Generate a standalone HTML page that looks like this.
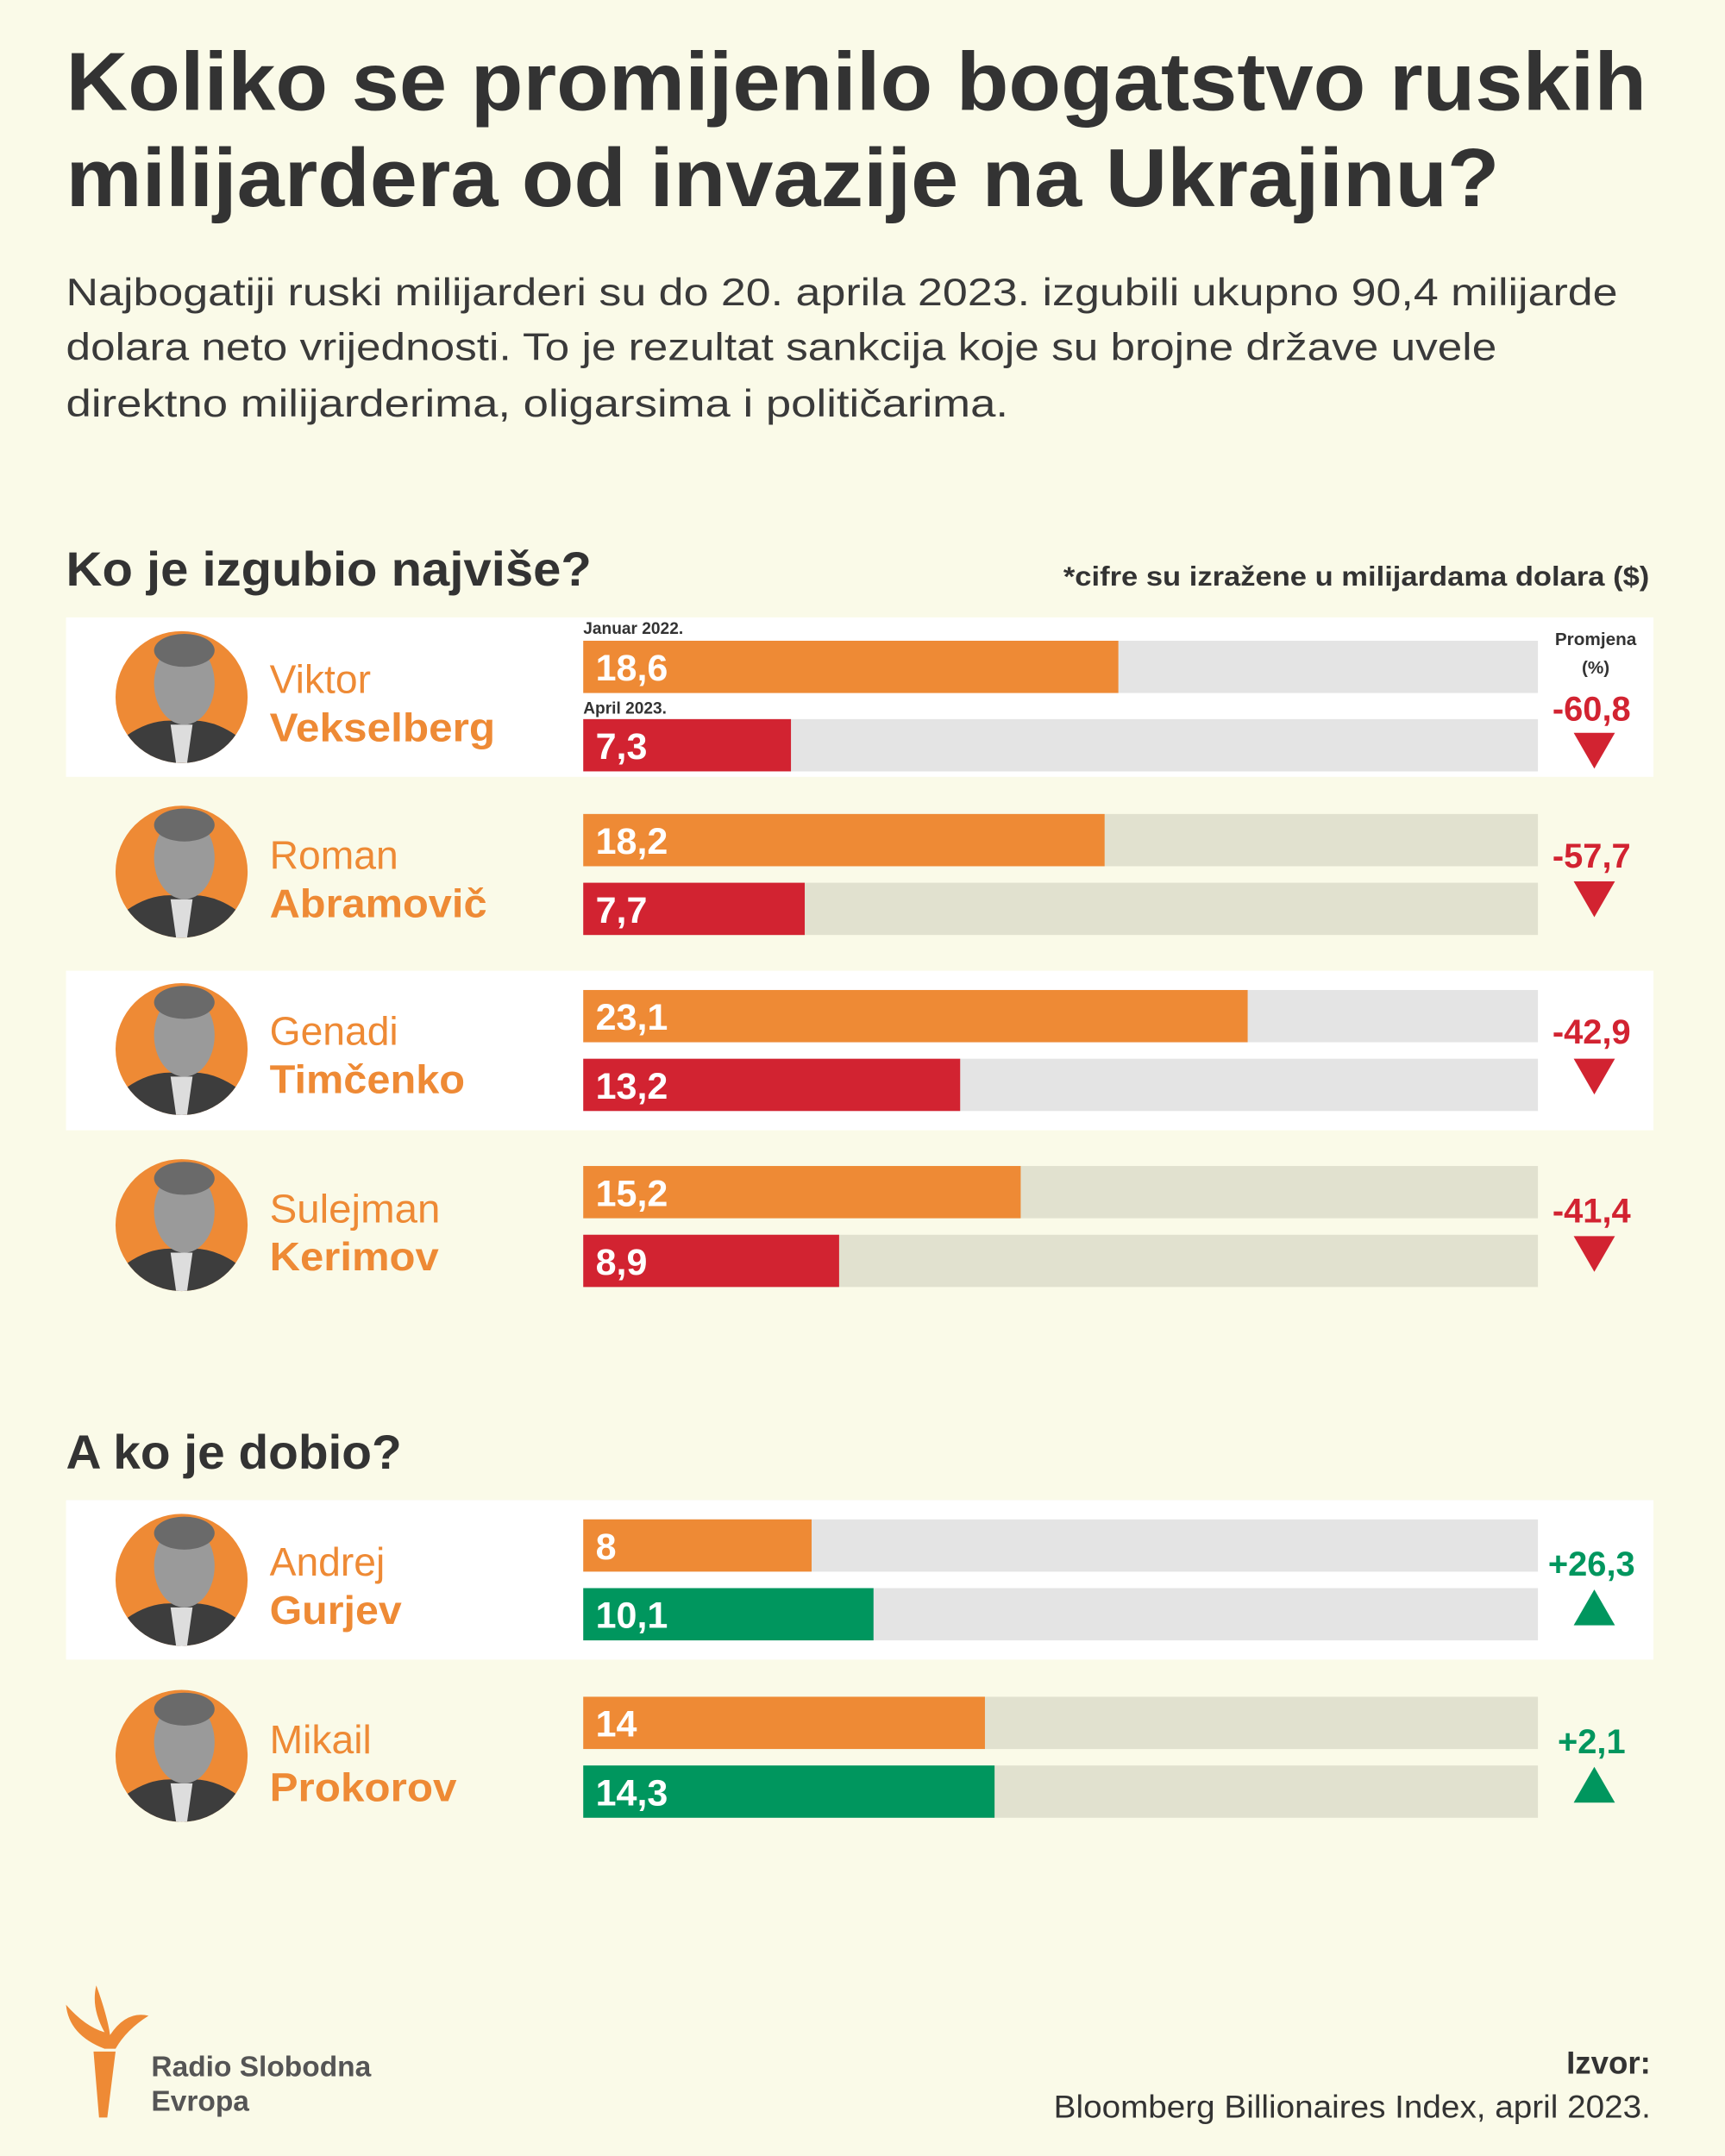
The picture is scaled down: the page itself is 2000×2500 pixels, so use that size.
<!DOCTYPE html>
<html><head><meta charset="utf-8"><style>
html,body{margin:0;padding:0;background:#fafae8;}
svg{display:block;}
text{font-family:"Liberation Sans",sans-serif;}
</style></head><body>
<svg width="2000" height="2500" viewBox="0 0 1254 1568" preserveAspectRatio="none" xmlns="http://www.w3.org/2000/svg">
<rect width="1254" height="1568" fill="#fafae8"/>
<g fill="#333" font-weight="bold">
<text x="48" y="80" font-size="60" textLength="1149" lengthAdjust="spacingAndGlyphs">Koliko se promijenilo bogatstvo ruskih</text>
<text x="48" y="150" font-size="60" textLength="1042" lengthAdjust="spacingAndGlyphs">milijardera od invazije na Ukrajinu?</text>
</g>
<g fill="#3a3a3a" font-size="28">
<text x="48" y="222" textLength="1128" lengthAdjust="spacingAndGlyphs">Najbogatiji ruski milijarderi su do 20. aprila 2023. izgubili ukupno 90,4 milijarde</text>
<text x="48" y="262" textLength="1040" lengthAdjust="spacingAndGlyphs">dolara neto vrijednosti. To je rezultat sankcija koje su brojne države uvele</text>
<text x="48" y="303" textLength="685" lengthAdjust="spacingAndGlyphs">direktno milijarderima, oligarsima i političarima.</text>
</g>
<text x="48" y="426" font-size="35" font-weight="bold" fill="#333" textLength="382" lengthAdjust="spacingAndGlyphs">Ko je izgubio najviše?</text>
<text x="773" y="426" font-size="20" font-weight="bold" fill="#333" textLength="426" lengthAdjust="spacingAndGlyphs">*cifre su izražene u milijardama dolara ($)</text>
<text x="48" y="1068" font-size="35" font-weight="bold" fill="#333" textLength="244" lengthAdjust="spacingAndGlyphs">A ko je dobio?</text>

<!-- white bands -->
<rect x="48" y="449" width="1154" height="116" fill="#fff"/>
<rect x="48" y="706" width="1154" height="116" fill="#fff"/>
<rect x="48" y="1091" width="1154" height="116" fill="#fff"/>

<!-- tracks -->
<g>
<rect x="424" y="466" width="694" height="38" fill="#e4e4e4"/><rect x="424" y="523" width="694" height="38" fill="#e4e4e4"/>
<rect x="424" y="592" width="694" height="38" fill="#e1e1cf"/><rect x="424" y="642" width="694" height="38" fill="#e1e1cf"/>
<rect x="424" y="720" width="694" height="38" fill="#e4e4e4"/><rect x="424" y="770" width="694" height="38" fill="#e4e4e4"/>
<rect x="424" y="848" width="694" height="38" fill="#e1e1cf"/><rect x="424" y="898" width="694" height="38" fill="#e1e1cf"/>
<rect x="424" y="1105" width="694" height="38" fill="#e4e4e4"/><rect x="424" y="1155" width="694" height="38" fill="#e4e4e4"/>
<rect x="424" y="1234" width="694" height="38" fill="#e1e1cf"/><rect x="424" y="1284" width="694" height="38" fill="#e1e1cf"/>
</g>
<!-- bars -->
<g>
<rect x="424" y="466" width="389" height="38" fill="#ee8a35"/><rect x="424" y="523" width="151" height="38" fill="#d22331"/>
<rect x="424" y="592" width="379" height="38" fill="#ee8a35"/><rect x="424" y="642" width="161" height="38" fill="#d22331"/>
<rect x="424" y="720" width="483" height="38" fill="#ee8a35"/><rect x="424" y="770" width="274" height="38" fill="#d22331"/>
<rect x="424" y="848" width="318" height="38" fill="#ee8a35"/><rect x="424" y="898" width="186" height="38" fill="#d22331"/>
<rect x="424" y="1105" width="166" height="38" fill="#ee8a35"/><rect x="424" y="1155" width="211" height="38" fill="#00965e"/>
<rect x="424" y="1234" width="292" height="38" fill="#ee8a35"/><rect x="424" y="1284" width="299" height="38" fill="#00965e"/>
</g>
<g fill="#fff" font-size="27" font-weight="bold">
<text x="433" y="495">18,6</text><text x="433" y="552">7,3</text>
<text x="433" y="621">18,2</text><text x="433" y="671">7,7</text>
<text x="433" y="749">23,1</text><text x="433" y="799">13,2</text>
<text x="433" y="877">15,2</text><text x="433" y="927">8,9</text>
<text x="433" y="1134">8</text><text x="433" y="1184">10,1</text>
<text x="433" y="1263">14</text><text x="433" y="1313">14,3</text>
</g>
<g fill="#333" font-size="12" font-weight="bold">
<text x="424" y="461">Januar 2022.</text>
<text x="424" y="519">April 2023.</text>
<text x="1160" y="469" text-anchor="middle" font-size="13">Promjena</text>
<text x="1160" y="490" text-anchor="middle" font-size="13">(%)</text>
</g>
<!-- percents -->
<g font-size="25" font-weight="bold" text-anchor="middle">
<text x="1157" y="524" fill="#d22331">-60,8</text>
<text x="1157" y="631" fill="#d22331">-57,7</text>
<text x="1157" y="759" fill="#d22331">-42,9</text>
<text x="1157" y="889" fill="#d22331">-41,4</text>
<text x="1157" y="1146" fill="#00965e">+26,3</text>
<text x="1157" y="1275" fill="#00965e">+2,1</text>
</g>
<g>
<polygon points="1144,533 1174,533 1159,559" fill="#d22331"/>
<polygon points="1144,641 1174,641 1159,667" fill="#d22331"/>
<polygon points="1144,770 1174,770 1159,796" fill="#d22331"/>
<polygon points="1144,899 1174,899 1159,925" fill="#d22331"/>
<polygon points="1144,1182 1174,1182 1159,1156" fill="#00965e"/>
<polygon points="1144,1311 1174,1311 1159,1285" fill="#00965e"/>
</g>
<!-- portraits -->
<defs>
<clipPath id="c"><circle cx="0" cy="0" r="48"/></clipPath>
<g id="face">
<circle cx="0" cy="0" r="48" fill="#ee8a35"/>
<g clip-path="url(#c)">
<path d="M-48,48 L-40,28 Q-20,14 0,18 Q20,14 40,28 L48,48 Z" fill="#3d3d3d"/>
<path d="M-8,20 L8,20 L4,48 L-4,48 Z" fill="#ddd"/>
<ellipse cx="2" cy="-10" rx="22" ry="30" fill="#9a9a9a"/>
<ellipse cx="2" cy="-34" rx="22" ry="12" fill="#6a6a6a"/>
</g>
</g>
</defs>
<use href="#face" x="132" y="507"/>
<use href="#face" x="132" y="634"/>
<use href="#face" x="132" y="763"/>
<use href="#face" x="132" y="891"/>
<use href="#face" x="132" y="1149"/>
<use href="#face" x="132" y="1277"/>
<!-- names -->
<g fill="#ee8a35" font-size="29">
<text x="196" y="504">Viktor</text><text x="196" y="539" font-weight="bold" textLength="164" lengthAdjust="spacingAndGlyphs">Vekselberg</text>
<text x="196" y="632">Roman</text><text x="196" y="667" font-weight="bold" textLength="158" lengthAdjust="spacingAndGlyphs">Abramovič</text>
<text x="196" y="760">Genadi</text><text x="196" y="795" font-weight="bold" textLength="142" lengthAdjust="spacingAndGlyphs">Timčenko</text>
<text x="196" y="889" textLength="124" lengthAdjust="spacingAndGlyphs">Sulejman</text><text x="196" y="924" font-weight="bold" textLength="123" lengthAdjust="spacingAndGlyphs">Kerimov</text>
<text x="196" y="1146">Andrej</text><text x="196" y="1181" font-weight="bold" textLength="96" lengthAdjust="spacingAndGlyphs">Gurjev</text>
<text x="196" y="1275">Mikail</text><text x="196" y="1310" font-weight="bold" textLength="136" lengthAdjust="spacingAndGlyphs">Prokorov</text>
</g>
<!-- logo -->
<g fill="#ee8a35">
<path d="M68,1492 L84,1492 L78,1540 L72,1540 Z"/>
<path d="M76,1490 Q50,1480 48,1458 Q62,1474 76,1478 Q66,1460 70,1444 Q78,1466 80,1480 Q92,1462 108,1466 Q92,1476 84,1490 Z"/>
</g>
<g fill="#555" font-size="21" font-weight="bold">
<text x="110" y="1510">Radio Slobodna</text>
<text x="110" y="1535">Evropa</text>
</g>
<text x="1200" y="1508" font-size="23" font-weight="bold" fill="#333" text-anchor="end">Izvor:</text>
<text x="1200" y="1540" font-size="23" fill="#333" text-anchor="end" textLength="434" lengthAdjust="spacingAndGlyphs">Bloomberg Billionaires Index, april 2023.</text>
</svg>
</body></html>
